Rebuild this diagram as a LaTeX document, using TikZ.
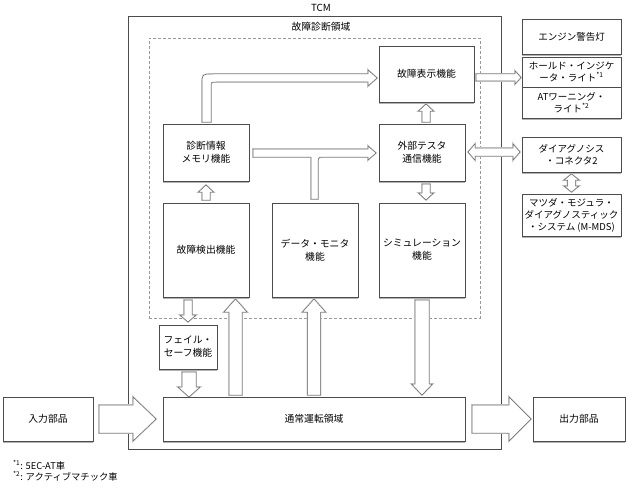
\documentclass[tikz,border=0pt]{standalone}
\usepackage{fontspec}
\setmainfont{Noto Sans CJK JP}
\usetikzlibrary{calc}
\newcommand\fsz{\fontsize{9.8}{13}\selectfont}
\newcommand\fszr{\fontsize{9.5}{12}\selectfont}
\tikzset{
  boxnb/.style={draw=black!70, line width=0.6pt, fill=white, align=center, inner sep=0pt, font=\fsz},
  box/.style={boxnb,
    append after command={([yshift=-0.9pt]\tikzlastnode.south west) edge[draw=black!30, line width=1.2pt] ([yshift=-0.9pt]\tikzlastnode.south east)}},
  rbox/.style={box, font=\fszr},
  rboxnb/.style={boxnb, font=\fszr},
  frame/.style={draw=black!70, line width=0.6pt, inner sep=0pt},
  dframe/.style={draw=black!40, line width=0.6pt, dash pattern=on 3pt off 2pt, inner sep=0pt},
  barr/.style={fill=white, draw=black!60, line width=0.5pt, line join=miter,
    preaction={draw=black!22, line width=1.7pt}},
  lbl/.style={font=\fontsize{9.8}{12}\selectfont, inner sep=0pt},
  fnote/.style={font=\fontsize{9.3}{11}\selectfont, anchor=west, inner sep=0pt},
}
% box by corners
\newcommand\mkbox[7][box]{\node[#1, minimum width={(#5-#3)*1pt}, minimum height={(#6-#4)*1pt}] (#2) at ({(#3+#5)/2},{(#4+#6)/2}) {#7};}
% horizontal single arrow: x1, x2, yc, shaft half, head half, head length
\newcommand\HArr[6]{\draw[barr] (#1,{#3-#4}) -- ({#2-(#6)*sign(#2-#1)},{#3-#4}) -- ({#2-(#6)*sign(#2-#1)},{#3-#5}) -- (#2,#3) -- ({#2-(#6)*sign(#2-#1)},{#3+#5}) -- ({#2-(#6)*sign(#2-#1)},{#3+#4}) -- (#1,{#3+#4}) -- cycle;}
% vertical single arrow: y1, y2, xc, shaft half, head half, head length
\newcommand\VArr[6]{\draw[barr] ({#3-#4},#1) -- ({#3-#4},{#2-(#6)*sign(#2-#1)}) -- ({#3-#5},{#2-(#6)*sign(#2-#1)}) -- (#3,#2) -- ({#3+#5},{#2-(#6)*sign(#2-#1)}) -- ({#3+#4},{#2-(#6)*sign(#2-#1)}) -- ({#3+#4},#1) -- cycle;}
% double arrows
\newcommand\HDArr[6]{\draw[barr] (#1,#3) -- ({#1+#6},{#3-#5}) -- ({#1+#6},{#3-#4}) -- ({#2-#6},{#3-#4}) -- ({#2-#6},{#3-#5}) -- (#2,#3) -- ({#2-#6},{#3+#5}) -- ({#2-#6},{#3+#4}) -- ({#1+#6},{#3+#4}) -- ({#1+#6},{#3+#5}) -- cycle;}
\newcommand\VDArr[6]{\draw[barr] (#3,#1) -- ({#3-#5},{#1+#6}) -- ({#3-#4},{#1+#6}) -- ({#3-#4},{#2-#6}) -- ({#3-#5},{#2-#6}) -- (#3,#2) -- ({#3+#5},{#2-#6}) -- ({#3+#4},{#2-#6}) -- ({#3+#4},{#1+#6}) -- ({#3+#5},{#1+#6}) -- cycle;}
\begin{document}
\begin{tikzpicture}[x=1pt,y=-1pt]
\useasboundingbox (0,0) rectangle (632,495);
% frames
\mkbox[frame]{tcm}{128}{16}{501}{449}{}
\node[lbl] (tcmlbl) at (321,8) {TCM};
\mkbox[dframe]{diag}{149}{38}{480}{318}{}
\node[lbl] (diaglbl) at (321,27) {故障診断領域};

% arrows
% memory -> display (bent)
\draw[barr] (202,122) -- (202,85) .. controls (202,74) .. (213,74) -- (368,74) -- (368,70) -- (377,78) -- (368,86) -- (368,82) -- (216,82) .. controls (211,82) .. (211,87) -- (211,122) -- cycle;
% memory -> external tester, joined by data monitor
\draw[barr] (253,149) -- (368,149) -- (368,146) -- (376,153) -- (368,160) -- (368,157) -- (325,157) .. controls (318,157) .. (318,164) -- (318,199) -- (311,199) -- (311,157) -- (253,157) -- cycle;
\VArr{122}{104}{426}{4}{7.5}{7}
\VArr{184}{200}{426}{4}{7.5}{7}
\VArr{200}{185}{206}{4}{7.5}{7}
\HDArr{468}{520}{152}{4}{8}{7}
\HArr{476}{521}{77.5}{3.5}{6.5}{6}
\VDArr{174}{192}{571.5}{4}{7.5}{6}
\VArr{300}{322}{188}{4}{8}{7}
\VArr{372}{397}{189}{7}{11}{10}
\VArr{395}{299}{235.5}{6.5}{11.5}{13}
\VArr{395}{299}{314}{6.5}{11.5}{13}
\VArr{300}{395}{422}{7}{10.5}{11}
\HArr{99}{156}{419}{14}{22}{23}
\HArr{472}{531}{419}{14}{22}{22}

% boxes
\mkbox{disp}{379}{46}{474}{102}{故障表示機能}
\mkbox{mem}{163}{124}{249}{181}{診断情報\\メモリ機能}
\mkbox{ext}{379}{124}{465}{181}{外部テスタ\\通信機能}
\mkbox{det}{163}{203}{249}{297}{故障検出機能}
\mkbox{mon}{272}{203}{358}{297}{データ・モニタ\\機能}
\mkbox{sim}{379}{203}{465}{297}{シミュレーション\\機能}
\mkbox{fs}{159}{325}{217}{369}{フェイル・\\セーフ機能}
\mkbox{norm}{163}{397}{465}{441}{通常運転領域}
\mkbox{inp}{3}{397}{93}{441}{入力部品}
\mkbox{outp}{533}{397}{625}{441}{出力部品}
\mkbox[rbox]{eng}{522}{19}{621}{54}{エンジン警告灯}
\mkbox[rboxnb]{hold}{522}{57}{621}{87}{ホールド・インジケ\\ータ・ライト\textsuperscript{*1}}
\mkbox[rbox]{atw}{522}{87}{621}{118}{ATワーニング・\\ライト\textsuperscript{*2}}
\mkbox[rbox]{dc}{522}{137}{621}{172}{ダイアグノシス\\・コネクタ2}
\mkbox[rbox]{mds}{522}{194}{621}{236}{マツダ・モジュラ・\\ダイアグノスティック\\・システム (M-MDS)}

% footnotes
\node[fnote] (fn1) at (13,465) {\textsuperscript{*1}: 5EC-AT車};
\node[fnote] (fn2) at (13,476) {\textsuperscript{*2}: アクティブマチック車};
\end{tikzpicture}
\end{document}
